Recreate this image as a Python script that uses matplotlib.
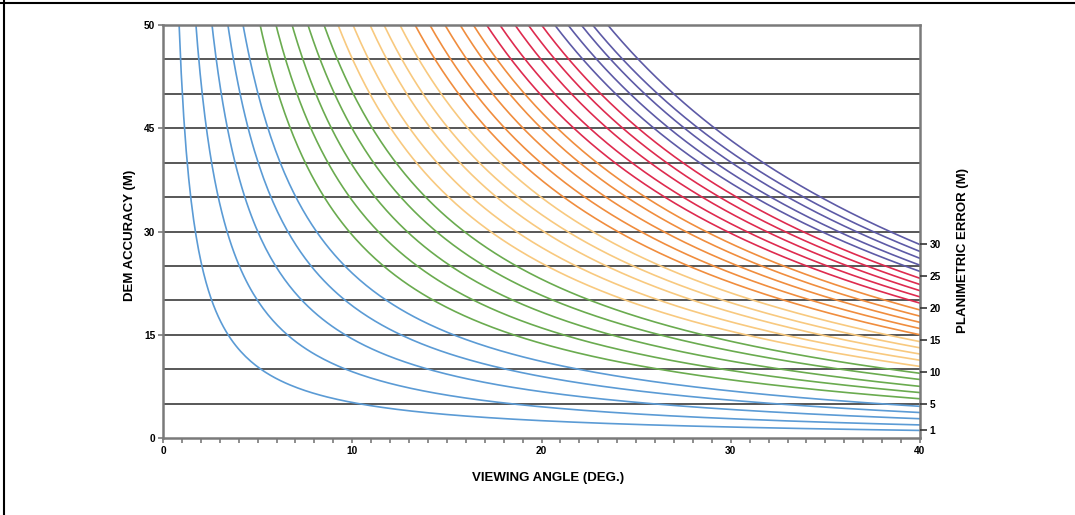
import numpy as np
import matplotlib
matplotlib.use("Agg")
import matplotlib.pyplot as plt
from matplotlib.lines import Line2D

plt.rcParams['font.family'] = ['Liberation Sans', 'DejaVu Sans']
plt.rcParams['font.weight'] = 'bold'

# planimetric error levels, one curve each
plan_error = list(range(1, 31))
# viewing angle (deg) where each curve leaves the top of the plot
top_angle = [0.85, 1.74, 2.59, 3.43, 4.23, 5.13, 5.97, 6.82, 7.66, 8.51,
             9.25, 10.04, 10.94, 11.68, 12.52, 13.32, 14.1, 14.9, 15.7, 16.4,
             17.1, 17.8, 18.6, 19.3, 20.0, 20.7, 21.4, 22.1, 22.7, 23.5]
# DEM value where each curve meets the right edge (40 deg)
end_value = [1.1, 1.9, 2.8, 3.7, 4.6, 5.7, 6.6, 7.5, 8.5, 9.4,
             10.4, 11.3, 12.2, 13.1, 14.0, 15.0, 15.9, 16.8, 17.7, 18.6,
             19.6, 20.5, 21.4, 22.3, 23.2, 24.2, 25.1, 26.1, 27.1, 28.1]
group_colors = ['#5b9bd5', '#6aab4f', '#f8c97f', '#f08d3e', '#de2b4f', '#5d5aa6']

# y axis: gridlines every 5, labels as printed on the chart
y_grid = [5, 10, 15, 20, 25, 30, 35, 40, 45, 50, 55]
y_ticks = [0, 15, 30, 45, 60]
y_tick_labels = ['0', '15', '30', '45', '50']
x_ticks = [0, 10, 20, 30, 40]
right_ticks = [1.1, 5.0, 9.6, 14.2, 18.9, 23.5, 28.2]
right_labels = ['1', '5', '10', '15', '20', '25', '30']

y_top = 60
x_max = 40
axis_gray = '#7a7a7a'

fig = plt.figure(figsize=(10.75, 5.15), dpi=100)
ax = fig.add_axes([163/1075, 77/515, 757/1075, 413/515])

for g in y_grid:
    ax.axhline(g, color='#4a4a4a', lw=1.3, zorder=1)

t40 = np.tan(np.radians(x_max))
for i, p in enumerate(plan_error):
    t_top = np.tan(np.radians(top_angle[i]))
    # D * tan(angle)^n stays constant along a curve
    n = np.log(y_top / end_value[i]) / np.log(t40 / t_top)
    ang = np.linspace(top_angle[i] * 0.98, x_max, 300)
    dem = end_value[i] * (t40 / np.tan(np.radians(ang))) ** n
    ax.plot(ang, dem, color=group_colors[i // 5], lw=1.2, zorder=2)

ax.set_xlim(0, x_max)
ax.set_ylim(0, y_top)
ax.set_xticks(x_ticks)
ax.set_xticks(np.arange(0, 41, 1), minor=True)
ax.set_yticks(y_ticks)
ax.set_yticklabels(y_tick_labels)
ax.tick_params(axis='both', which='both', direction='out', length=3.5,
               width=1.2, color=axis_gray, labelsize=7.3, pad=2)
for s in ax.spines.values():
    s.set_color(axis_gray)
    s.set_linewidth(1.8)

ax.set_xlabel('VIEWING ANGLE (DEG.)', fontsize=9.5, fontweight='bold')
ax.xaxis.set_label_coords(0.509, -0.082)
ax.set_ylabel('DEM ACCURACY (M)', fontsize=9.5, fontweight='bold')
ax.yaxis.set_label_coords(-0.036, 0.49)

ax2 = ax.twinx()
ax2.set_ylim(0, y_top)
ax2.set_yticks(right_ticks)
ax2.set_yticklabels(right_labels)
ax2.tick_params(axis='y', direction='out', length=5, width=1.2,
                color='#333333', labelsize=7.3, pad=2)
for s in ax2.spines.values():
    s.set_visible(False)
ax2.set_ylabel('PLANIMETRIC ERROR (M)', fontsize=9.5, fontweight='bold')
ax2.yaxis.set_label_coords(1.049, 0.455)

# page border on top and left
fig.add_artist(Line2D([0, 1], [0.994, 0.994], color='black', lw=1.5, transform=fig.transFigure))
fig.add_artist(Line2D([0.004, 0.004], [0, 1], color='black', lw=1.5, transform=fig.transFigure))

fig.savefig('out.png', dpi=100)
